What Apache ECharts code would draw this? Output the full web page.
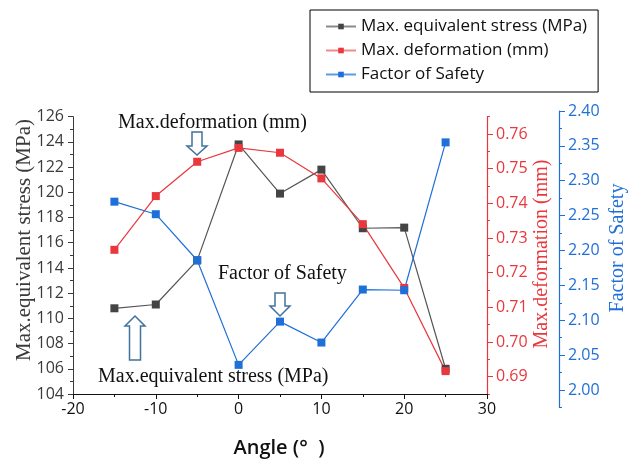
<!DOCTYPE html>
<html>
<head>
<meta charset="utf-8">
<script src="https://cdn.jsdelivr.net/npm/echarts@6/dist/echarts.min.js"></script>
<style>
  html, body { margin: 0; padding: 0; background: #fff; }
  #chart { width: 635px; height: 459px; }
</style>
</head>
<body>
<div id="chart"></div>
<script>
// Blade angle sweep: stress, deformation and safety factor per angle
const angles = [-15, -10, -5, 0, 5, 10, 15, 20, 25];
const stressMPa = [110.8, 111.1, 114.6, 123.8, 119.9, 121.8, 117.15, 117.2, 106.0];
const deformationMm = [0.7266, 0.7421, 0.752, 0.756, 0.7546, 0.7472, 0.734, 0.7156, 0.6916];
const safetyFactor = [2.27, 2.252, 2.186, 2.036, 2.098, 2.068, 2.144, 2.143, 2.355];

// Axis ticks
const angleTicks = [-20, -10, 0, 10, 20, 30];
const stressTicks = [104, 106, 108, 110, 112, 114, 116, 118, 120, 122, 124, 126];
const deformTicks = [0.69, 0.70, 0.71, 0.72, 0.73, 0.74, 0.75, 0.76];
const safetyTicks = [2.00, 2.05, 2.10, 2.15, 2.20, 2.25, 2.30, 2.35, 2.40];

const seriesNames = ['Max. equivalent stress (MPa)', 'Max. deformation (mm)', 'Factor of Safety'];

// half-step minor ticks around the labelled ones
function minorTicks(ticks) {
  const step = ticks[1] - ticks[0];
  const out = ticks.map(t => +(t - step / 2).toFixed(4));
  out.push(+(ticks[ticks.length - 1] + step / 2).toFixed(4));
  return out;
}
const deformMinor = minorTicks(deformTicks);
const safetyMinor = minorTicks(safetyTicks);

const SANS = 'Open Sans';
const SERIF = 'Liberation Serif';
const GREY = '#3a3a3a';
const RED = '#e8383d';
const BLUE = '#1f6fd8';
const ARROW = '#41719c';

const chart = echarts.init(document.getElementById('chart'), null, { renderer: 'canvas' });

function pair(arrX, arrY) { return arrX.map((x, i) => [x, arrY[i]]); }

const option = {
  backgroundColor: '#fff',
  animation: false,
  grid: [
    { left: 73, right: 148, top: 116.7, bottom: 65 },
    { left: 73, right: 148, top: 111, bottom: 51.6 }
  ],
  legend: {
    left: 310, top: 10, orient: 'vertical',
    borderColor: '#000', borderWidth: 1,
    padding: [8, 11, 9, 15],
    itemWidth: 30, itemHeight: 7, itemGap: 7,
    textStyle: { fontFamily: SANS, fontSize: 17, color: '#111' },
    data: [
      { name: seriesNames[0], lineStyle: { color: '#8a8a8a' }, itemStyle: { color: '#444' } },
      { name: seriesNames[1], lineStyle: { color: '#f08a8c' }, itemStyle: { color: RED } },
      { name: seriesNames[2], lineStyle: { color: '#5c9ae6' }, itemStyle: { color: BLUE } }
    ]
  },
  xAxis: [
    {
      gridIndex: 0, type: 'value', min: angleTicks[0], max: angleTicks[angleTicks.length - 1], interval: 10,
      axisLine: { show: true, onZero: false, lineStyle: { color: '#111', width: 1 } },
      axisTick: { show: true, length: 5, lineStyle: { color: '#111' } },
      minorTick: { show: true, splitNumber: 2, length: 3, lineStyle: { color: '#111' } },
      axisLabel: { fontFamily: SANS, fontSize: 16, color: '#111', margin: 7 },
      splitLine: { show: false }, minorSplitLine: { show: false }
    },
    { gridIndex: 1, type: 'value', min: -20, max: 30, show: false,
      axisLine: { onZero: false } }
  ],
  yAxis: [
    {
      gridIndex: 0, type: 'value', position: 'left',
      min: stressTicks[0], max: stressTicks[stressTicks.length - 1], interval: 2,
      axisLine: { show: true, onZero: false, lineStyle: { color: GREY, width: 1 } },
      axisTick: { show: true, length: 5, lineStyle: { color: GREY } },
      minorTick: { show: true, splitNumber: 2, length: 3, lineStyle: { color: GREY } },
      axisLabel: { fontFamily: SANS, fontSize: 16, color: GREY, margin: 9 },
      splitLine: { show: false }, minorSplitLine: { show: false }
    },
    {
      gridIndex: 0, type: 'value', position: 'right', min: 0.685, max: 0.765,
      axisLine: { show: true, onZero: false, lineStyle: { color: RED, width: 1.2 } },
      axisTick: { show: true, length: 6, customValues: deformTicks, lineStyle: { color: RED } },
      axisLabel: { fontFamily: SANS, fontSize: 16, color: RED, margin: 9, customValues: deformTicks,
                   formatter: v => v.toFixed(2) },
      splitLine: { show: false }
    },
    {
      gridIndex: 0, type: 'value', position: 'right', min: 0.685, max: 0.765,
      axisLine: { show: false, onZero: false },
      axisTick: { show: true, length: 3, customValues: deformMinor, lineStyle: { color: RED } },
      axisLabel: { show: false },
      splitLine: { show: false }
    },
    {
      gridIndex: 1, type: 'value', position: 'right', offset: 72, min: 1.975, max: 2.40,
      axisLine: { show: true, onZero: false, lineStyle: { color: BLUE, width: 1.2 } },
      axisTick: { show: true, length: 6, customValues: safetyTicks, lineStyle: { color: BLUE } },
      axisLabel: { fontFamily: SANS, fontSize: 16, color: BLUE, margin: 9, customValues: safetyTicks,
                   formatter: v => v.toFixed(2) },
      splitLine: { show: false }
    },
    {
      gridIndex: 1, type: 'value', position: 'right', offset: 72, min: 1.975, max: 2.40,
      axisLine: { show: false, onZero: false },
      axisTick: { show: true, length: 3, customValues: safetyMinor, lineStyle: { color: BLUE } },
      axisLabel: { show: false },
      splitLine: { show: false }
    }
  ],
  series: [
    {
      name: seriesNames[0], type: 'line', xAxisIndex: 0, yAxisIndex: 0,
      data: pair(angles, stressMPa),
      symbol: 'rect', symbolSize: 8,
      itemStyle: { color: '#444' }, lineStyle: { color: '#555', width: 1.2 }
    },
    {
      name: seriesNames[1], type: 'line', xAxisIndex: 0, yAxisIndex: 1,
      data: pair(angles, deformationMm),
      symbol: 'rect', symbolSize: 8,
      itemStyle: { color: RED }, lineStyle: { color: RED, width: 1.2 }
    },
    {
      name: seriesNames[2], type: 'line', xAxisIndex: 1, yAxisIndex: 3,
      data: pair(angles, safetyFactor),
      symbol: 'rect', symbolSize: 8,
      itemStyle: { color: BLUE }, lineStyle: { color: BLUE, width: 1.2 }
    }
  ],
  graphic: [
    // axis titles
    { type: 'text', x: 24, y: 240, rotation: Math.PI / 2,
      style: { text: 'Max.equivalent stress (MPa)', font: '21px "' + SERIF + '"', fill: GREY,
               align: 'center', verticalAlign: 'middle' } },
    { type: 'text', x: 542, y: 254, rotation: Math.PI / 2,
      style: { text: 'Max.deformation (mm)', font: '20px "' + SERIF + '"', fill: RED,
               align: 'center', verticalAlign: 'middle' } },
    { type: 'text', x: 618, y: 248, rotation: Math.PI / 2,
      style: { text: 'Factor of Safety', font: '20px "' + SERIF + '"', fill: BLUE,
               align: 'center', verticalAlign: 'middle' } },
    { type: 'text', x: 279, y: 448,
      style: { text: 'Angle (\u00B0  )', font: '600 20px "' + SANS + '"', fill: '#111',
               align: 'center', verticalAlign: 'middle' } },
    // callouts
    { type: 'text', x: 118, y: 123,
      style: { text: 'Max.deformation (mm)', font: '20px "' + SERIF + '"', fill: '#111',
               align: 'left', verticalAlign: 'middle' } },
    { type: 'text', x: 218, y: 274,
      style: { text: 'Factor of Safety', font: '20px "' + SERIF + '"', fill: '#111',
               align: 'left', verticalAlign: 'middle' } },
    { type: 'text', x: 98, y: 377,
      style: { text: 'Max.equivalent stress (MPa)', font: '20px "' + SERIF + '"', fill: '#111',
               align: 'left', verticalAlign: 'middle' } },
    { type: 'polygon', z: 100,
      shape: { points: [[192, 132], [202, 132], [202, 146], [207, 146], [197, 155], [187, 146], [192, 146]] },
      style: { fill: '#fff', stroke: ARROW, lineWidth: 1.5 } },
    { type: 'polygon', z: 100,
      shape: { points: [[275, 293], [285, 293], [285, 306], [290, 306], [280, 316], [270, 306], [275, 306]] },
      style: { fill: '#fff', stroke: ARROW, lineWidth: 1.5 } },
    { type: 'polygon', z: 100,
      shape: { points: [[135, 316], [145, 326], [140.5, 326], [140.5, 360], [129.5, 360], [129.5, 326], [125, 326]] },
      style: { fill: '#fff', stroke: ARROW, lineWidth: 1.5 } }
  ]
};

chart.setOption(option);
</script>
</body>
</html>
